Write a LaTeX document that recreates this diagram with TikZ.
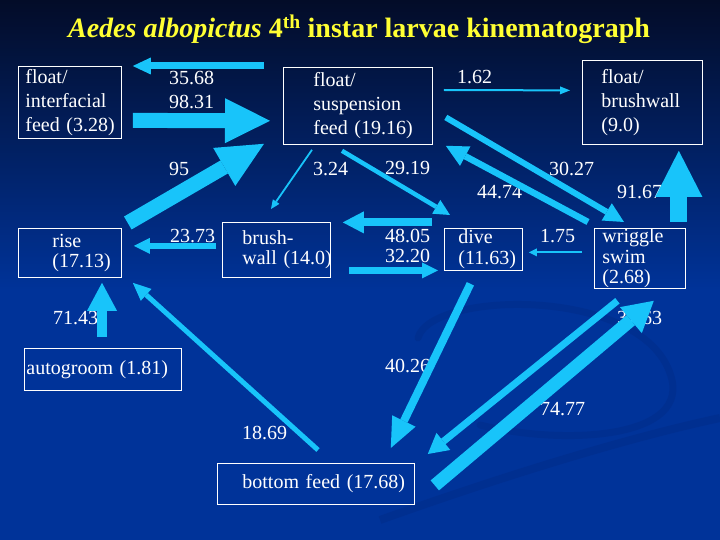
\documentclass[tikz,border=0pt]{standalone}
\usepackage{fontspec}
\setmainfont{Liberation Serif}
\usetikzlibrary{arrows.meta}
\definecolor{bgtop}{RGB}{3,12,40}
\definecolor{bgblue}{RGB}{0,51,153}
\definecolor{bgdark}{RGB}{0,38,125}
\definecolor{flowc}{RGB}{24,196,250}
\definecolor{titlec}{RGB}{255,255,51}
\tikzset{
	box/.style={draw=white, line width=0.8pt, text=white, anchor=north west, inner xsep=0pt, inner ysep=0pt, align=left},
	lpad/.style={execute at begin node={\leftskip=#1pt\relax}},
	mid/.style={font=\fontsize{20}{20.5}\selectfont},
	num/.style={text=white, anchor=base west, inner sep=0pt},
	flow/.style n args={3}{draw=flowc, line width=#1pt, -{Triangle[length=#2pt, width=#3pt, line width=0pt]}}
}
\begin{document}
\begin{tikzpicture}[x=1pt, y=-1pt, font=\fontsize{20}{24}\selectfont]
	\useasboundingbox (0,0) rectangle (720,540);
	% background
	\fill[bgblue] (0,0) rectangle (720,540);
	\shade[top color=bgtop, bottom color=bgblue] (0,0) rectangle (720,290);
	\draw[bgdark, line width=7pt, opacity=.3, line cap=round] (418,338) .. controls (430,290) and (650,285) .. (672,380) .. controls (685,440) and (560,445) .. (480,425);
	\draw[bgdark, line width=8pt, opacity=.3] (380,520) .. controls (520,470) and (640,435) .. (720,418);

	\node[text=titlec, font=\fontsize{28}{34}\selectfont\bfseries, anchor=base] (title) at (359,38)
		{\textit{Aedes albopictus} 4\textsuperscript{th} instar larvae kinematograph};

	% states
	\node[box, text width=103pt, minimum height=72pt, lpad=7] (inter) at (18,66) {float/\\interfacial\\feed~(3.28)};
	\node[box, text width=149pt, minimum height=77pt, lpad=30] (susp) at (283,67) {float/\\suspension\\feed~(19.16)};
	\node[box, text width=120pt, minimum height=84pt, lpad=19] (bwall) at (582,60) {float/\\brushwall\\(9.0)};
	\node[box, mid, text width=103pt, minimum height=49pt, lpad=34] (rise) at (18,228) {rise\\(17.13)};
	\node[box, mid, text width=108pt, minimum height=55pt, lpad=20] (brush) at (222,222) {brush-\\wall~(14.0)};
	\node[box, mid, text width=78pt, minimum height=42pt, lpad=14] (dive) at (444,228) {dive\\(11.63)};
	\node[box, mid, text width=91pt, minimum height=60pt, lpad=8] (wrig) at (594,228) {wriggle\\swim\\(2.68)};
	\node[box, text width=157pt, minimum height=42pt, lpad=2] (groom) at (24,348) {autogroom~(1.81)};
	\node[box, text width=197pt, minimum height=41pt, lpad=25] (bottom) at (217,463) {bottom~feed~(17.68)};

	% transition values
	\foreach \v/\x/\y [count=\i] in {35.68/169/85, 98.31/169/109, 95/169/176, 3.24/313/176, 29.19/385/175,
		1.62/457/84, 30.27/549/176, 44.74/477/199, 91.67/617/199, 23.73/170/242, 48.05/385/242,
		32.20/385/262, 1.75/540/242, 71.43/53/324, 37.63/617/324, 40.26/385/372, 74.77/540/415, 18.69/242/439}
		\node[num] (w\i) at (\x,\y) {\v};

	% transitions
	\draw[flow={7}{18}{17}] ([shift={(-19,-1)}]susp.north west) -- ([shift={(11,0)}]inter.north east);
	\draw[flow={15}{45}{45}] ([shift={(11,18)}]inter.east) -- ([shift={(-13,-24)}]susp.south west);
	\draw[flow={15}{46}{44}] ([shift={(6,-5)}]rise.north east) -- ([shift={(-19,-1)}]susp.south west);
	\draw[flow={1.8}{9}{8}] ([shift={(29,5)}]susp.south west) -- ([shift={(49,-13)}]brush.north west);
	\draw[flow={4.5}{16}{16}] ([shift={(59,6)}]susp.south west) -- ([shift={(6,-13)}]dive.north west);
	\draw[flow={2}{10}{8}] ([shift={(11,23)}]susp.north east) -- ([shift={(-12,-12)}]bwall.west);
	\draw[flow={6}{20}{20}] ([shift={(13,11.5)}]susp.east) -- ([shift={(30,-6)}]wrig.north west);
	\draw[flow={6.5}{22}{22}] ([shift={(-6,-6)}]wrig.north west) -- ([shift={(13,1)}]susp.south east);
	\draw[flow={17}{46}{47}] ([shift={(-7,-6)}]wrig.north east) -- ([shift={(-24,6)}]bwall.south east);
	\draw[flow={6}{16}{16}] ([shift={(-6,-4)}]brush.west) -- ([shift={(12,-7)}]rise.east);
	\draw[flow={8}{21}{22}] ([shift={(-12,-27)}]dive.west) -- ([shift={(12,-27.5)}]brush.east);
	\draw[flow={6.5}{16}{16}] ([shift={(18,20.5)}]brush.east) -- ([shift={(-6,21)}]dive.west);
	\draw[flow={2}{8}{8}] ([shift={(-12,-6)}]wrig.west) -- ([shift={(6,3)}]dive.east);
	\draw[flow={10}{28}{30}] ([shift={(78,-11)}]groom.north west) -- ([shift={(84,5)}]rise.south west);
	\draw[flow={5}{18}{16}] ([shift={(101,-13)}]bottom.north west) -- ([shift={(11,5)}]rise.south east);
	\draw[flow={8}{30}{26}] ([shift={(-13,13)}]dive.south) -- ([shift={(-24,-15)}]bottom.north east);
	\draw[flow={7}{20}{22}] ([shift={(-22.5,12)}]wrig.south) -- ([shift={(13,-9)}]bottom.north east);
	\draw[flow={13}{30}{34}] ([shift={(20,1.5)}]bottom.east) -- ([shift={(-32,12)}]wrig.south east);
\end{tikzpicture}
\end{document}
